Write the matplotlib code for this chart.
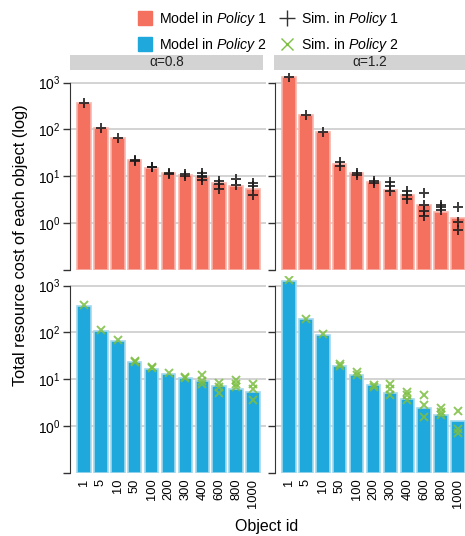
import matplotlib
matplotlib.use("Agg")
from matplotlib import pyplot as plt
from matplotlib.lines import Line2D
from matplotlib.patches import Rectangle

plt.rcParams['font.family'] = ['Liberation Sans', 'DejaVu Sans']
plt.rcParams['mathtext.fontset'] = 'custom'
plt.rcParams['mathtext.rm'] = 'Liberation Sans'
plt.rcParams['mathtext.it'] = 'Liberation Sans:italic'

objects = ['1', '5', '10', '50', '100', '200', '300', '400', '600', '800', '1000']
alphas = ['α=0.8', 'α=1.2']

# model cost per object
model_p1_a08 = [375, 105, 65, 21.9, 15.3, 11.6, 10.7, 9.5, 7.2, 6.2, 5.4]
model_p1_a12 = [1298, 199, 87.7, 18, 11.8, 7.45, 5.1, 3.94, 2.42, 1.71, 1.30]
model_p2_a08 = [369, 107, 66.5, 23.4, 16.9, 12.8, 10.8, 9.2, 7.2, 6.1, 5.3]
model_p2_a12 = [1257, 189, 87.8, 19.2, 12.6, 7.56, 5.1, 3.75, 2.38, 1.71, 1.28]

# simulation runs per object
sim_p1_a08 = [[375], [105], [65], [22.6, 21.5], [16, 15.5], [11.8, 11.2],
              [11.2, 10.3], [11.5, 10.2, 9.5, 8.4], [8.1, 6.9, 5.4],
              [8.8, 6.6], [7.3, 6.2, 3.9]]
sim_p1_a12 = [[1340], [200], [90], [19.9, 16.9], [11.8, 10.8], [7.8, 7.2],
              [7.6, 6.3, 4.8], [4.8, 3.9, 3.3], [4.4, 2.4, 1.8, 1.4],
              [2.4, 2.2, 1.9], [2.2, 1.07, 0.73]]
sim_p2_a08 = [[382], [110], [67.6], [24.5, 23.4], [18.3, 17.7], [13.4],
              [11.2, 10.5], [12.2, 9.2, 7.8], [8.5, 6.7, 5.2],
              [9.7, 7.8, 6.7], [7.8, 6.1, 3.6]]
sim_p2_a12 = [[1320], [196], [92], [21.2, 18.9], [14.3, 12.6], [7.7, 6.9],
              [8.1, 6.1, 4.57], [5.4, 4.57, 3.6], [4.57, 2.8, 1.58],
              [2.45, 2.02, 1.71], [2.08, 0.89, 0.70]]

red = '#f4705f'
red_edge = '#f9b5ac'
blue = '#1fa8dc'
blue_edge = '#a3d9ee'
green = '#7cbf42'

W, H = 465, 536
fig = plt.figure(figsize=(W / 100, H / 100), dpi=100)

cols_x = [70, 275]
rows_top = [73, 276]
ax_w, ax_h = 196, 197

panels = [
    [(model_p1_a08, sim_p1_a08), (model_p1_a12, sim_p1_a12)],
    [(model_p2_a08, sim_p2_a08), (model_p2_a12, sim_p2_a12)],
]

x = list(range(len(objects)))
for r in range(2):
    for c in range(2):
        ax = fig.add_axes([cols_x[c] / W, 1 - (rows_top[r] + ax_h) / H,
                           ax_w / W, ax_h / H])
        model, sims = panels[r][c]
        fc, ec = (red, red_edge) if r == 0 else (blue, blue_edge)
        ax.set_yscale('log')
        ax.bar(x, [m - 0.1 for m in model], bottom=0.1, width=0.8,
               color=fc, edgecolor=ec, linewidth=1.2, zorder=2)
        for i, vals in enumerate(sims):
            if r == 0:
                ax.plot([i] * len(vals), vals, '+', color='#1a1a1a',
                        markersize=7.5, markeredgewidth=1.4, alpha=0.85, zorder=3)
            else:
                ax.plot([i] * len(vals), vals, 'x', color=green,
                        markersize=6, markeredgewidth=1.4, alpha=0.85, zorder=3)
        ax.set_xlim(-0.83, 10.77)
        ax.set_ylim(0.1, 1600)
        ax.set_yticks([1, 10, 100, 1000])
        ax.set_yticks([0.1], minor=True)
        ax.set_yticklabels(['$10^{0}$', '$10^{1}$', '$10^{2}$', '$10^{3}$'])
        ax.yaxis.set_minor_formatter(plt.NullFormatter())
        ax.tick_params(axis='y', which='both', direction='out', length=5,
                       width=1, color='#333333', labelsize=10, pad=2)
        if c == 1:
            ax.tick_params(axis='y', labelleft=False)
        ax.grid(axis='y', which='major', color='#cccccc', linewidth=1.2, zorder=0)
        ax.set_axisbelow(True)
        for s in ['top', 'right', 'bottom']:
            ax.spines[s].set_visible(False)
        ax.spines['left'].set_bounds(0.1, 1000)
        ax.spines['left'].set_color('#333333')
        ax.set_xticks(x)
        if r == 1:
            ax.set_xticklabels(objects, rotation=90, fontsize=9.3)
        else:
            ax.set_xticklabels([])
        ax.tick_params(axis='x', length=0, pad=4)

# strip headers above each column
strips = [(70, 263), (274, 465)]
for (x0, x1), lab in zip(strips, alphas):
    fig.patches.append(Rectangle((x0 / W, 1 - 70 / H), (x1 - x0) / W, 15 / H,
                                 transform=fig.transFigure, facecolor='#d3d3d3',
                                 edgecolor='none'))
    fig.text((x0 + x1) / 2 / W, 1 - 62.5 / H, lab, ha='center', va='center',
             fontsize=9.8, color='#222222')

handles = [
    Line2D([], [], marker='s', linestyle='none', color=red, markersize=10),
    Line2D([], [], marker='s', linestyle='none', color=blue, markersize=10),
    Line2D([], [], marker='+', linestyle='none', color='#333333', markersize=11,
           markeredgewidth=1),
    Line2D([], [], marker='x', linestyle='none', color=green, markersize=8,
           markeredgewidth=1),
]
labels = [r'Model in $\it{Policy\ 1}$', r'Model in $\it{Policy\ 2}$',
          r'Sim. in $\it{Policy\ 1}$', r'Sim. in $\it{Policy\ 2}$']
fig.legend(handles, labels, ncol=2, loc='upper center',
           bbox_to_anchor=(0.577, 1.0), frameon=False, fontsize=10.2,
           handlelength=1.0, handletextpad=0.5, columnspacing=0.9,
           labelspacing=0.6, borderaxespad=0.3)

fig.text(21 / W, 1 - 245 / H, 'Total resource cost of each object (log)',
         rotation=90, ha='center', va='center', fontsize=11.8)
fig.text(267 / W, 1 - 527 / H, 'Object id', ha='center', va='center', fontsize=11.5)

fig.savefig('out.png', dpi=100)
